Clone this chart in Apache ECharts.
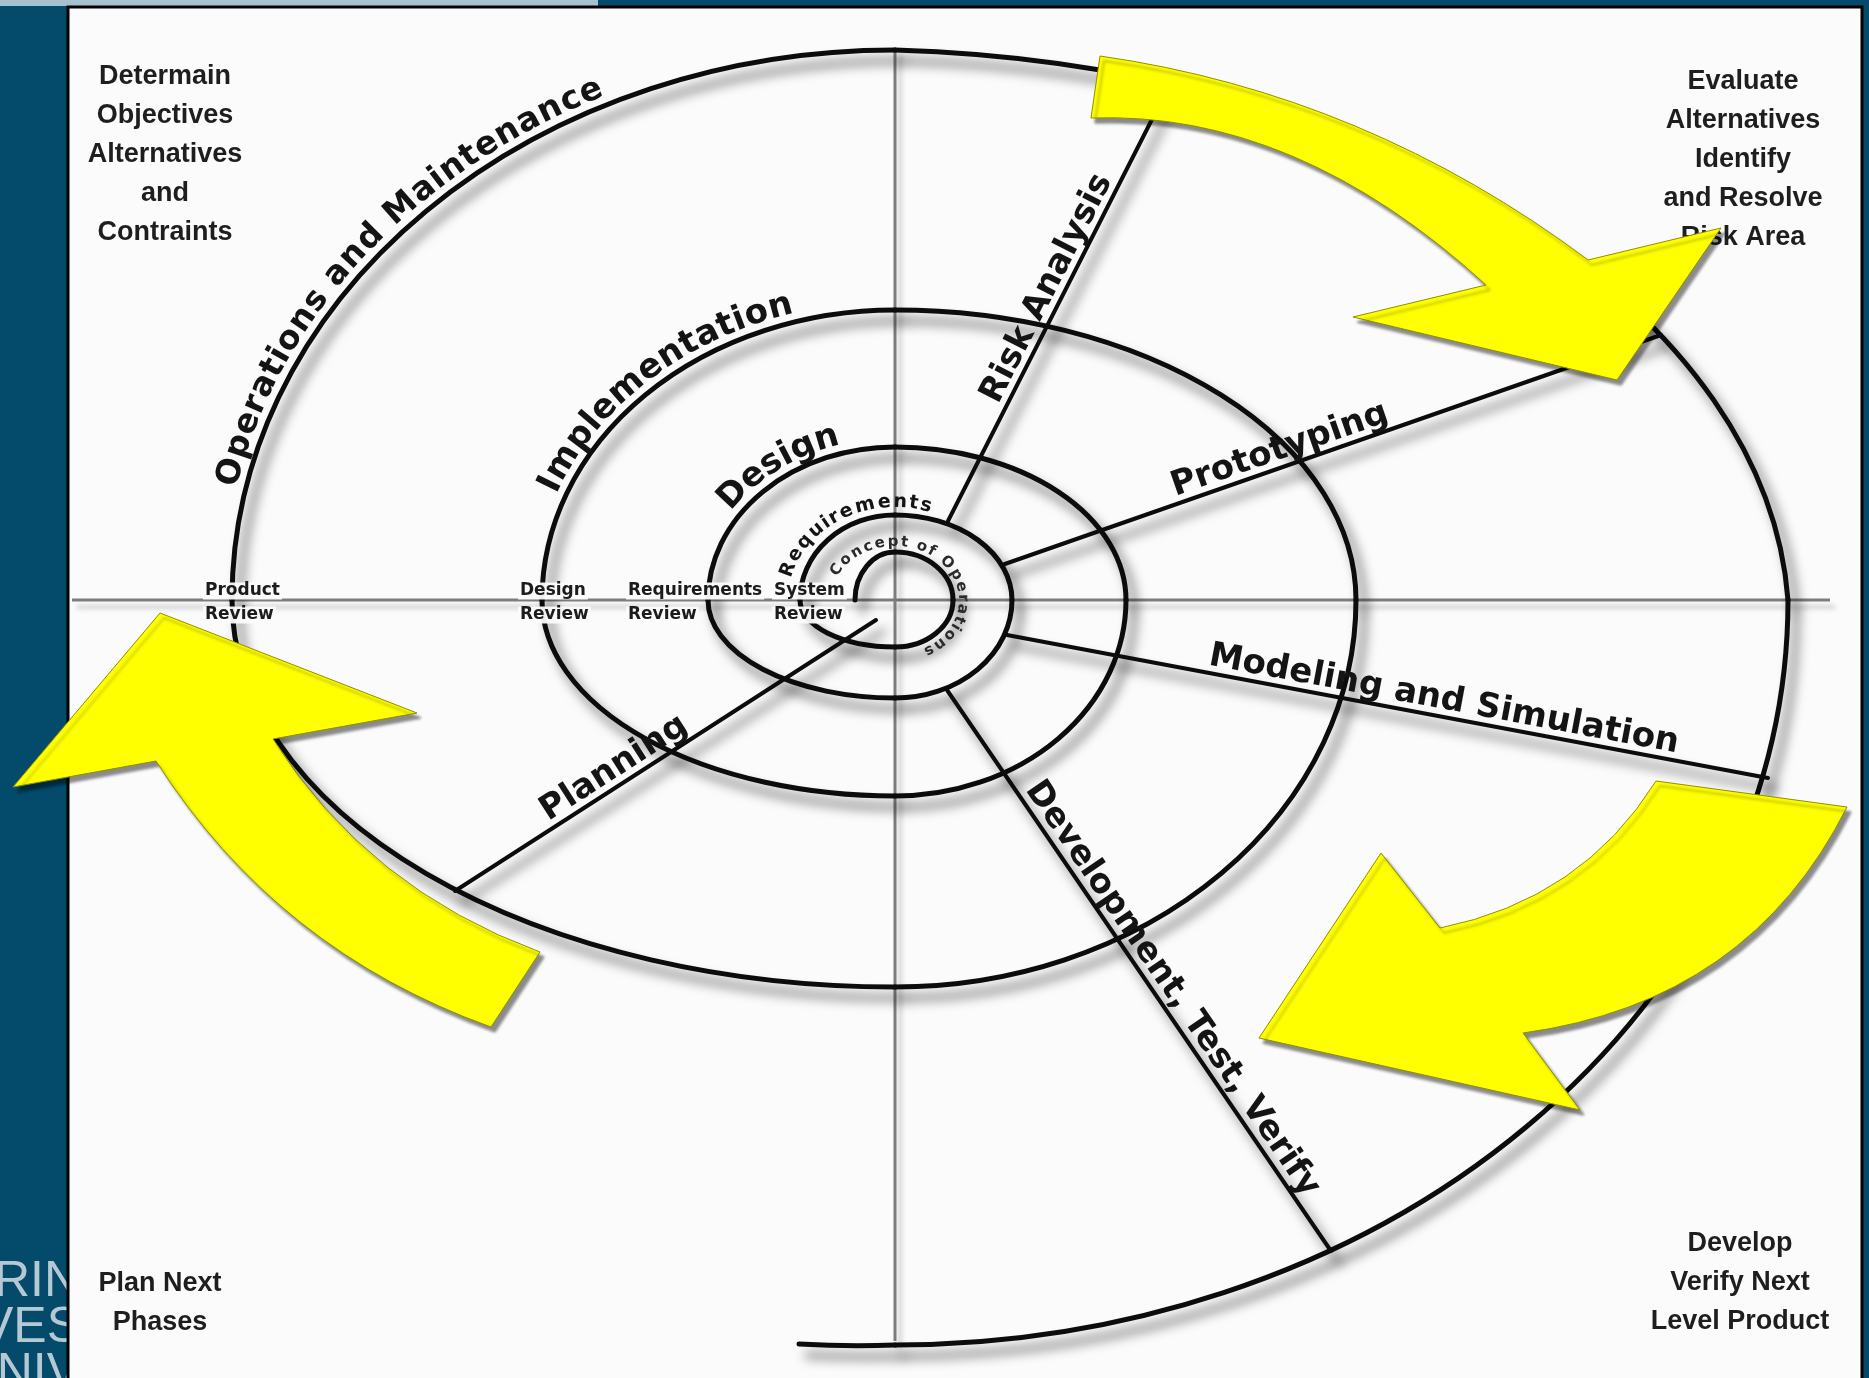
<!DOCTYPE html>
<html lang="en">
<head>
<meta charset="utf-8">
<title>Spiral Model</title>
<script src="https://cdn.jsdelivr.net/npm/echarts@6.0.0/dist/echarts.min.js"></script>
<style>
  html, body { margin: 0; padding: 0; background: #034a6b; overflow: hidden; }
  #main { width: 1869px; height: 1378px; }
</style>
</head>
<body>
<div id="main"></div>
<script>
// 螺旋模型示意图 —— 坐标系与像素 1:1
var W = 1869, H = 1378;
var CENTER = [895, 600];

// 螺旋与十字轴的交点（由内向外，顺时针）
var spiralDirs  = ['L', 'T', 'R', 'B', 'L', 'T', 'R', 'B', 'L', 'T', 'R', 'B', 'L', 'T', 'R', 'B', 'L', 'T', 'R', 'B'];
var spiralRadii = [40, 48, 58, 47, 95, 85, 117, 98, 187, 153, 231, 196, 353, 290, 461, 387, 663, 550, 893, 745];
// 每段弧的扁平系数（>1 表示该段比四分之一椭圆更平）
var spiralFlat  = [1, 1, 1, 1, 1, 1, 1, 1, 1, 1, 1, 1, 1, 1, 1, 1, 1, 1.05, 1, 1];
var spiralTail  = [799, 1344];

// 径向线
var spokeNames   = ['Risk Analysis', 'Prototyping', 'Modeling and Simulation', 'Development, Test, Verify', 'Planning'];
var spokeFrom    = [[948, 521], [1002, 565], [1007, 635], [947, 690], [876, 620]];
var spokeTo      = [[1172, 80], [1661, 335], [1768, 778], [1331, 1251], [455, 891]];
var spokeLabelAt = [0.51, 0.43, 0.57, 0.55, 0.60];

// 沿螺旋的文字（角度为椭圆参数角，单位度）
var arcLabelText = ['Operations and Maintenance', 'Implementation', 'Design', 'Requirements', 'Concept of Operations'];
var arcLabelRx   = [681, 371, 205, 112, 68];
var arcLabelRy   = [568, 308, 171, 98, 58];
var arcLabelFrom = [167, 158, 142, 162, 149];
var arcLabelTo   = [116.5, 108, 109.5, 74, -60];
var arcLabelSize = [33, 34, 34, 19, 15];

// 评审节点
var reviewNames = ['Product', 'Design', 'Requirements', 'System'];
var reviewX     = [203, 518, 626, 772];
var reviewRowY  = [591, 615];

// 四角说明
var cornerText = [
  'Determain\nObjectives\nAlternatives\nand\nContraints',
  'Evaluate\nAlternatives\nIdentify\nand Resolve\nRisk Area',
  'Plan Next\nPhases',
  'Develop\nVerify Next\nLevel Product'
];
var cornerX = [165, 1743, 160, 1740];
var cornerY = [155, 160, 1303, 1283];

// 黄色箭头：外弧(尾,中,端)、箭头(外刺,尖,内刺)、内弧(端,中,尾)
var arrowOuter = [[[1100, 56], [1355, 126], [1588, 260]],
                  [[1847, 807], [1717, 961], [1523, 1033]],
                  [[491, 1027], [300, 922], [156, 761]]];
var arrowHead  = [[[1721, 228], [1617, 380], [1353, 317]],
                  [[1580, 1110], [1259, 1038], [1381, 853]],
                  [[13, 787], [160, 613], [417, 713]]];
var arrowInner = [[[1486, 285], [1292, 156], [1091, 118]],
                  [[1440, 928], [1565, 877], [1656, 781]],
                  [[273, 739], [387, 867], [540, 952]]];

// 背景块与十字轴
var frameBoxes = [[0, 0, 598, 6], [68, 7, 1862, 1380]];
var axisLines  = [[72, 600, 1830, 600], [895, 48, 895, 1341]];
var logoText = ['RIN', 'VES', 'NIV'];
var logoY    = [1282, 1328, 1374];

var chart = echarts.init(document.getElementById('main'), null, { renderer: 'canvas', width: W, height: H });

var LABEL_FONT = '"DejaVu Sans", Verdana, sans-serif';
var measureCtx = document.createElement('canvas').getContext('2d');

function axisPoint(dir, r) {
  if (dir === 'L') return [CENTER[0] - r, CENTER[1]];
  if (dir === 'R') return [CENTER[0] + r, CENTER[1]];
  if (dir === 'T') return [CENTER[0], CENTER[1] - r];
  return [CENTER[0], CENTER[1] + r];
}

function inkStyle(width) {
  return {
    fill: 'none', stroke: '#0c0c0c', lineWidth: width, lineCap: 'round',
    shadowBlur: 12, shadowColor: 'rgba(0,0,0,0.62)', shadowOffsetX: 8, shadowOffsetY: 11
  };
}

function f2(v) { return v.toFixed(2); }

// 二次贝塞尔经过中点时的控制点
function ctrl(a, m, b) {
  return [2 * m[0] - (a[0] + b[0]) / 2, 2 * m[1] - (a[1] + b[1]) / 2];
}

// 文字沿椭圆排布
function layoutArcText(text, font, rx, ry, t0, t1) {
  measureCtx.font = font;
  var chars = Array.from(text);
  var widths = chars.map(function (c) { return measureCtx.measureText(c).width; });
  var a0 = t0 * Math.PI / 180, a1 = t1 * Math.PI / 180;
  var N = 600, lut = [0];
  var prev = [rx * Math.cos(a0), -ry * Math.sin(a0)];
  for (var k = 1; k <= N; k++) {
    var a = a0 + (a1 - a0) * k / N;
    var p = [rx * Math.cos(a), -ry * Math.sin(a)];
    lut.push(lut[k - 1] + Math.hypot(p[0] - prev[0], p[1] - prev[1]));
    prev = p;
  }
  var total = lut[N];
  var acc = 0, centres = [];
  widths.forEach(function (w) { centres.push(acc + w / 2); acc += w; });
  var span = centres[centres.length - 1] - centres[0];
  var dir = a1 > a0 ? 1 : -1;
  return chars.map(function (c, i) {
    var s = (centres[i] - centres[0]) / span * total;
    var j = 1;
    while (j < N && lut[j] < s) j++;
    var fr = (s - lut[j - 1]) / ((lut[j] - lut[j - 1]) || 1);
    var a = a0 + (a1 - a0) * (j - 1 + fr) / N;
    var tx = -rx * Math.sin(a) * dir, ty = -ry * Math.cos(a) * dir;
    return { ch: c, dx: rx * Math.cos(a), dy: -ry * Math.sin(a), rot: -Math.atan2(ty, tx) };
  });
}

var option = {
  backgroundColor: '#034a6b',
  animation: false,
  grid: { left: 0, right: 0, top: 0, bottom: 0 },
  xAxis: { type: 'value', min: 0, max: W, show: false },
  yAxis: { type: 'value', min: 0, max: H, inverse: true, show: false },
  series: [
    {
      type: 'custom', name: 'logo', z: 0, silent: true,
      data: logoY.map(function (y) { return [80, y]; }),
      renderItem: function (params, api) {
        var p = api.coord([api.value(0), api.value(1)]);
        return {
          type: 'text', x: p[0], y: p[1],
          style: {
            text: logoText[params.dataIndex], fill: '#b4c9d4',
            font: '50px "Liberation Sans Narrow", "Liberation Sans", sans-serif',
            align: 'right', verticalAlign: 'middle'
          }
        };
      }
    },
    {
      type: 'custom', name: 'frame', z: 1, silent: true,
      data: frameBoxes,
      renderItem: function (params, api) {
        var a = api.coord([api.value(0), api.value(1)]);
        var b = api.coord([api.value(2), api.value(3)]);
        var panel = params.dataIndex === 1;
        return {
          type: 'rect',
          shape: { x: a[0], y: a[1], width: b[0] - a[0], height: b[1] - a[1] },
          style: panel ? { fill: '#fbfbfb', stroke: '#000', lineWidth: 3 } : { fill: '#a6c1ce' }
        };
      }
    },
    {
      type: 'custom', name: 'axes', z: 2, silent: true,
      data: axisLines,
      renderItem: function (params, api) {
        var a = api.coord([api.value(0), api.value(1)]);
        var b = api.coord([api.value(2), api.value(3)]);
        return {
          type: 'line', shape: { x1: a[0], y1: a[1], x2: b[0], y2: b[1] },
          style: { stroke: '#7d7d7d', lineWidth: 3, shadowBlur: 5, shadowColor: 'rgba(0,0,0,0.22)', shadowOffsetX: 5, shadowOffsetY: 7 }
        };
      }
    },
    {
      type: 'custom', name: 'spiral', z: 3, silent: true,
      data: spiralRadii.map(function (r, i) { return axisPoint(spiralDirs[i], r); }),
      renderItem: function (params, api) {
        var i = params.dataIndex;
        var last = i === spiralRadii.length - 1;
        var p0 = api.coord([api.value(0), api.value(1)]);
        var p1 = api.coord(last ? spiralTail : axisPoint(spiralDirs[i + 1], spiralRadii[i + 1]));
        var rH, rV;
        if (last) { rH = spiralRadii[i - 1]; rV = spiralRadii[i]; }
        else if (spiralDirs[i] === 'L' || spiralDirs[i] === 'R') { rH = spiralRadii[i]; rV = spiralRadii[i + 1]; }
        else { rH = spiralRadii[i + 1]; rV = spiralRadii[i]; }
        var k = spiralFlat[i];
        var sz = api.size([rH * k, rV * k]);
        var d = 'M' + f2(p0[0]) + ' ' + f2(p0[1]) + ' A' + f2(sz[0]) + ' ' + f2(sz[1]) + ' 0 0 1 ' + f2(p1[0]) + ' ' + f2(p1[1]);
        return { type: 'path', shape: { pathData: d }, style: inkStyle(5) };
      }
    },
    {
      type: 'custom', name: 'spokes', z: 3, silent: true,
      data: spokeFrom.map(function (p, i) { return [p[0], p[1], spokeTo[i][0], spokeTo[i][1]]; }),
      renderItem: function (params, api) {
        var a = api.coord([api.value(0), api.value(1)]);
        var b = api.coord([api.value(2), api.value(3)]);
        return { type: 'line', shape: { x1: a[0], y1: a[1], x2: b[0], y2: b[1] }, style: inkStyle(4) };
      }
    },
    {
      type: 'custom', name: 'spokeLabels', z: 4, silent: true,
      data: spokeFrom.map(function (p) { return p; }),
      renderItem: function (params, api) {
        var i = params.dataIndex;
        var a = api.coord(spokeFrom[i]), b = api.coord(spokeTo[i]);
        var dx = b[0] - a[0], dy = b[1] - a[1], len = Math.hypot(dx, dy);
        var ux = dx / len, uy = dy / len;
        if (ux < 0) { ux = -ux; uy = -uy; }
        var t = spokeLabelAt[i];
        var cx = a[0] + dx * t + uy * 17, cy = a[1] + dy * t - ux * 17;
        return {
          type: 'text', x: cx, y: cy, rotation: -Math.atan2(uy, ux),
          style: {
            text: spokeNames[i], fill: '#141414', font: 'bold 34px ' + LABEL_FONT,
            align: 'center', verticalAlign: 'middle'
          }
        };
      }
    },
    {
      type: 'custom', name: 'arcLabels', z: 4, silent: true,
      data: arcLabelText.map(function () { return CENTER; }),
      renderItem: function (params, api) {
        var i = params.dataIndex;
        var font = 'bold ' + arcLabelSize[i] + 'px ' + LABEL_FONT;
        var chars = layoutArcText(arcLabelText[i], font, arcLabelRx[i], arcLabelRy[i], arcLabelFrom[i], arcLabelTo[i]);
        return {
          type: 'group',
          children: chars.map(function (c) {
            var p = api.coord([CENTER[0] + c.dx, CENTER[1] + c.dy]);
            return {
              type: 'text', x: p[0], y: p[1], rotation: c.rot,
              style: { text: c.ch, font: font, fill: i === 4 ? '#2a2a2a' : '#141414', align: 'center', verticalAlign: 'middle' }
            };
          })
        };
      }
    },
    {
      type: 'custom', name: 'reviews', z: 4, silent: true,
      data: reviewX.map(function (x) { return [x, reviewRowY[0]]; }),
      renderItem: function (params, api) {
        var i = params.dataIndex;
        var rows = [reviewNames[i], 'Review'];
        return {
          type: 'group',
          children: rows.map(function (txt, k) {
            var p = api.coord([reviewX[i], reviewRowY[k]]);
            return {
              type: 'text', x: p[0], y: p[1],
              style: {
                text: txt, font: 'bold 17px ' + LABEL_FONT, fill: '#1c1c1c',
                align: 'left', verticalAlign: 'middle', backgroundColor: 'rgba(251,251,251,0.95)', padding: [0, 2]
              }
            };
          })
        };
      }
    },
    {
      type: 'custom', name: 'corners', z: 4, silent: true,
      data: cornerX.map(function (x, i) { return [x, cornerY[i]]; }),
      renderItem: function (params, api) {
        var p = api.coord([api.value(0), api.value(1)]);
        return {
          type: 'text', x: p[0], y: p[1],
          style: {
            text: cornerText[params.dataIndex], fill: '#1e1e1e',
            font: 'bold 27px "Liberation Sans", Arial, sans-serif', lineHeight: 39,
            align: 'center', verticalAlign: 'middle'
          }
        };
      }
    },
    {
      type: 'custom', name: 'arrows', z: 5, silent: true,
      data: arrowOuter.map(function (o) { return o[0]; }),
      renderItem: function (params, api) {
        var i = params.dataIndex;
        var o = arrowOuter[i].map(function (p) { return api.coord(p); });
        var h = arrowHead[i].map(function (p) { return api.coord(p); });
        var n = arrowInner[i].map(function (p) { return api.coord(p); });
        var c1 = ctrl(o[0], o[1], o[2]), c2 = ctrl(n[0], n[1], n[2]);
        var d = 'M' + f2(o[0][0]) + ' ' + f2(o[0][1]) +
          ' Q' + f2(c1[0]) + ' ' + f2(c1[1]) + ' ' + f2(o[2][0]) + ' ' + f2(o[2][1]) +
          ' L' + f2(h[0][0]) + ' ' + f2(h[0][1]) +
          ' L' + f2(h[1][0]) + ' ' + f2(h[1][1]) +
          ' L' + f2(h[2][0]) + ' ' + f2(h[2][1]) +
          ' L' + f2(n[0][0]) + ' ' + f2(n[0][1]) +
          ' Q' + f2(c2[0]) + ' ' + f2(c2[1]) + ' ' + f2(n[2][0]) + ' ' + f2(n[2][1]) + ' Z';
        return {
          type: 'path', shape: { pathData: d },
          style: {
            fill: '#ffff00', stroke: '#8f8f00', lineWidth: 1, lineJoin: 'miter',
            shadowBlur: 3, shadowColor: 'rgba(0,0,0,0.45)', shadowOffsetX: 4, shadowOffsetY: 5
          }
        };
      }
    }
  ]
};

chart.setOption(option);
window.addEventListener('resize', function () { chart.resize(); });
</script>
</body>
</html>
